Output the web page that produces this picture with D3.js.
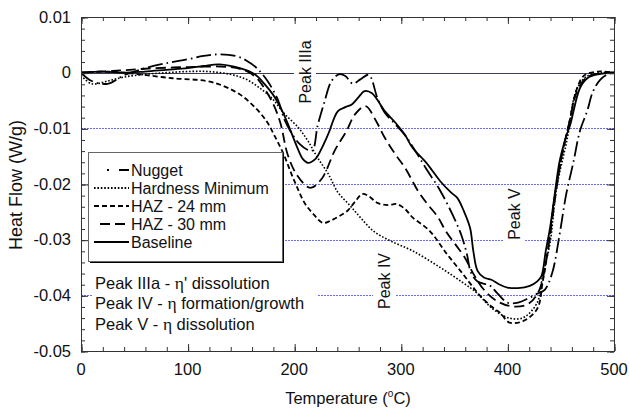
<!DOCTYPE html>
<html>
<head>
<meta charset="utf-8">
<script src="https://cdn.jsdelivr.net/npm/d3@7"></script>
<style>
  html, body { margin: 0; padding: 0; background: #fff; }
  svg text { font-family: "Liberation Sans", Arial, sans-serif; fill: #111; }
</style>
</head>
<body>
<svg id="chart" width="630" height="410"></svg>
<script>
// ---------------- data ----------------
const xTickValues = [0, 100, 200, 300, 400, 500];
const yTickValues = [0.01, 0, -0.01, -0.02, -0.03, -0.04, -0.05];
const gridValues = [-0.01, -0.02, -0.03, -0.04];
const seriesNames = ["Nugget", "Hardness Minimum", "HAZ - 24 mm", "HAZ - 30 mm", "Baseline"];

const nuggetT  = [0, 10, 25, 40, 60, 80, 100, 115, 130, 145, 155, 165, 175, 185, 191, 198, 205, 212, 217, 222, 228, 235, 242, 248, 255, 262, 270, 278, 285, 295, 305, 315, 324, 337, 349, 357, 362, 366, 372, 384, 390, 400, 410, 420, 428, 435, 442, 449, 455, 462, 468, 475, 480, 487, 495, 500];
const nuggetHF = [0, -0.0015, -0.002, -0.0005, 0.0008, 0.0017, 0.0024, 0.003, 0.0033, 0.003, 0.0022, 0.0008, -0.0015, -0.005, -0.0085, -0.011, -0.0128, -0.0138, -0.014, -0.0095, -0.0055, -0.0015, -0.0003, -0.0006, -0.002, -0.0012, -0.0004, -0.0045, -0.0072, -0.0093, -0.0115, -0.0145, -0.0173, -0.0212, -0.0257, -0.0293, -0.0326, -0.036, -0.0375, -0.0383, -0.0395, -0.0413, -0.0413, -0.0405, -0.0397, -0.039, -0.036, -0.029, -0.022, -0.016, -0.0105, -0.0068, -0.0035, -0.0013, -0.0002, 0];

const hardT  = [0, 10, 25, 40, 60, 80, 100, 120, 140, 155, 168, 180, 190, 204, 213, 222, 232, 241, 252, 262, 274, 290, 311, 337, 358, 371, 386, 402, 415, 428, 433, 440, 446, 456, 465, 475, 490, 500];
const hardHF = [-0.0005, -0.002, -0.0015, -0.0008, -0.0003, 0, 0.0002, 0.0002, -0.0003, -0.0012, -0.0028, -0.0048, -0.0072, -0.0099, -0.0123, -0.0153, -0.0182, -0.0215, -0.0238, -0.026, -0.0284, -0.0302, -0.032, -0.035, -0.0377, -0.0395, -0.0424, -0.0441, -0.044, -0.0413, -0.0365, -0.0306, -0.0209, -0.012, -0.003, -0.0006, 0, 0];

const haz24T  = [0, 20, 40, 55, 86, 118, 135, 149, 162, 174, 182, 190, 197, 203, 210, 218, 227, 234, 242, 250, 257, 264, 270, 278, 288, 296, 304, 311, 327, 343, 358, 368, 374, 385, 393, 402, 415, 428, 433, 438, 443, 450, 458, 465, 472, 485, 500];
const haz24HF = [0, 0.0002, 0, -0.0003, -0.001, -0.0015, -0.0025, -0.0039, -0.006, -0.0087, -0.0115, -0.0146, -0.018, -0.0207, -0.0235, -0.0254, -0.027, -0.0266, -0.0258, -0.0248, -0.0232, -0.0218, -0.0222, -0.0234, -0.0238, -0.0236, -0.0245, -0.026, -0.0284, -0.0325, -0.0361, -0.0386, -0.04, -0.042, -0.0431, -0.0449, -0.0446, -0.0424, -0.0377, -0.032, -0.024, -0.016, -0.009, -0.003, -0.0005, 0.0002, 0];

const haz30T  = [0, 30, 60, 100, 140, 155, 165, 172, 180, 187, 194, 203, 215, 226, 238, 249, 257, 267, 276, 285, 295, 304, 316, 325, 335, 342, 351, 360, 368, 378, 390, 405, 420, 430, 437, 443, 450, 458, 466, 475, 490, 500];
const haz30HF = [0, 0.0003, 0.0007, 0.001, 0.001, 0.0003, -0.001, -0.0028, -0.0055, -0.009, -0.0148, -0.0185, -0.0207, -0.019, -0.014, -0.0105, -0.0075, -0.006, -0.0084, -0.0117, -0.0147, -0.0171, -0.0212, -0.0236, -0.026, -0.0284, -0.0308, -0.0332, -0.0361, -0.039, -0.041, -0.042, -0.0415, -0.039, -0.033, -0.025, -0.016, -0.009, -0.003, -0.0008, 0, 0];

const baseT  = [0, 20, 40, 60, 80, 100, 115, 130, 149, 163, 172, 180, 187, 193, 203, 208, 213, 220, 226, 232, 241, 248, 254, 260, 266, 273, 285, 295, 304, 311, 324, 337, 347, 353, 359, 365, 368, 372, 378, 385, 392, 400, 410, 421, 428, 432, 436, 440, 445, 449, 455, 459, 468, 475, 485, 500];
const baseHF = [0, 0.0002, 0, 0.0002, 0.0005, 0.0008, 0.0012, 0.0015, 0.0008, -0.0003, -0.002, -0.0039, -0.0062, -0.0087, -0.0135, -0.0155, -0.0162, -0.0155, -0.0135, -0.011, -0.0069, -0.0062, -0.0057, -0.0045, -0.0033, -0.0037, -0.0069, -0.009, -0.0112, -0.0135, -0.0162, -0.0195, -0.0215, -0.0225, -0.0248, -0.0279, -0.032, -0.0356, -0.0368, -0.0372, -0.038, -0.0386, -0.0387, -0.0383, -0.0375, -0.0365, -0.032, -0.0279, -0.021, -0.0159, -0.0115, -0.0093, -0.0028, -0.001, -0.0003, 0];

const peakNotes = ["Peak IIIa - ", "Peak IV - ", "Peak V - "];
const peakNoteTails = ["' dissolution", " formation/growth", " dissolution"];

// ---------------- layout / styles ----------------
const svg = d3.select("#chart");
const L = 81, R = 614, T = 17, B = 351;
const x = d3.scaleLinear().domain([0, 500]).range([L, R]);
const y = d3.scaleLinear().domain([-0.05, 0.01]).range([B, T]);
const px = v => Math.round(v) + 0.5;

const styles = [
  { dash: "15,4,1.6,4", w: 1.8 },  // Nugget
  { dash: "1.6,1.8", w: 1.6 },     // Hardness Minimum
  { dash: "5,3", w: 1.8 },         // HAZ 24
  { dash: "10,5", w: 1.8 },        // HAZ 30
  { dash: null, w: 1.8 }           // Baseline
];
const legendDash = ["0,13,2,10,22,40", "1.6,1.8", "5,3", "0,6,10,5,10,40", null];

const seriesData = [
  nuggetT.map((t, i) => [t, nuggetHF[i]]),
  hardT.map((t, i) => [t, hardHF[i]]),
  haz24T.map((t, i) => [t, haz24HF[i]]),
  haz30T.map((t, i) => [t, haz30HF[i]]),
  baseT.map((t, i) => [t, baseHF[i]])
];

// grid lines
svg.append("g").selectAll("line").data(gridValues).join("line")
  .attr("x1", L).attr("x2", R)
  .attr("y1", d => px(y(d))).attr("y2", d => px(y(d)))
  .attr("stroke", "#6a6aff").attr("stroke-width", 1)
  .attr("stroke-dasharray", "2,1");

// zero line
svg.append("line").attr("x1", L).attr("x2", R)
  .attr("y1", px(y(0))).attr("y2", px(y(0)))
  .attr("stroke", "#3a3a5a").attr("stroke-width", 1);

// curves
const line = d3.line().x(d => x(d[0])).y(d => y(d[1])).curve(d3.curveCatmullRom.alpha(0.5));
svg.append("clipPath").attr("id", "plotclip")
  .append("rect").attr("x", L).attr("y", T).attr("width", R - L).attr("height", B - T);
svg.append("g").attr("clip-path", "url(#plotclip)")
  .selectAll("path").data(seriesData).join("path")
  .attr("d", d => line(d))
  .attr("fill", "none")
  .attr("stroke", "#000")
  .attr("stroke-width", (d, i) => styles[i].w)
  .attr("stroke-dasharray", (d, i) => styles[i].dash)
  .attr("stroke-linejoin", "round");

// frame
svg.append("rect").attr("x", L + 0.5).attr("y", T + 0.5).attr("width", R - L).attr("height", B - T)
  .attr("fill", "none").attr("stroke", "#333").attr("stroke-width", 1);

// axes with inner ticks
const xMinor = d3.range(0, 501, 20);
const yMinor = d3.range(-0.05, 0.0101, 0.002);
const axStyle = g => { g.select(".domain").remove(); g.selectAll("line").attr("stroke", "#333"); };
svg.append("g").attr("transform", `translate(0.5,${B})`).call(d3.axisTop(x).tickValues(xMinor).tickSize(4).tickFormat("")).call(axStyle);
svg.append("g").attr("transform", `translate(0.5,${T})`).call(d3.axisBottom(x).tickValues(xMinor).tickSize(4).tickFormat("")).call(axStyle);
svg.append("g").attr("transform", `translate(${L},0.5)`).call(d3.axisRight(y).tickValues(yMinor).tickSize(4).tickFormat("")).call(axStyle);
svg.append("g").attr("transform", `translate(${R},0.5)`).call(d3.axisLeft(y).tickValues(yMinor).tickSize(4).tickFormat("")).call(axStyle);
svg.append("g").attr("transform", `translate(0.5,${B})`).call(d3.axisTop(x).tickValues(xTickValues).tickSize(7).tickFormat("")).call(axStyle);
svg.append("g").attr("transform", `translate(0.5,${T})`).call(d3.axisBottom(x).tickValues(xTickValues).tickSize(7).tickFormat("")).call(axStyle);
svg.append("g").attr("transform", `translate(${L},0.5)`).call(d3.axisRight(y).tickValues(yTickValues).tickSize(7).tickFormat("")).call(axStyle);
svg.append("g").attr("transform", `translate(${R},0.5)`).call(d3.axisLeft(y).tickValues(yTickValues).tickSize(7).tickFormat("")).call(axStyle);

// tick labels
svg.append("g").selectAll("text").data(xTickValues).join("text")
  .attr("x", d => x(d)).attr("y", 369).attr("dy", "0.35em")
  .attr("text-anchor", "middle").attr("font-size", 16.5)
  .text(d => d);
svg.append("g").selectAll("text").data(yTickValues).join("text")
  .attr("x", 71).attr("y", d => y(d)).attr("dy", "0.35em")
  .attr("text-anchor", "end").attr("font-size", 16.5)
  .text(d => d === 0 ? "0" : String(+d.toFixed(2)));

// axis titles
const xt = svg.append("text").attr("x", 348).attr("y", 398).attr("dy", "0.35em")
  .attr("text-anchor", "middle").attr("font-size", 16.5);
xt.append("tspan").text("Temperature (");
xt.append("tspan").attr("font-size", 10).attr("dy", "-0.7em").text("o");
xt.append("tspan").attr("dy", "0.45em").text("C)");
svg.append("text").attr("transform", "translate(16,185) rotate(-90)")
  .attr("dy", "0.35em").attr("text-anchor", "middle").attr("font-size", 18)
  .text("Heat Flow (W/g)");

// legend
const lg = svg.append("g");
lg.append("rect").attr("x", 90).attr("y", 154).attr("width", 194).attr("height", 109).attr("fill", "#000");
lg.append("rect").attr("x", 88.5).attr("y", 152.5).attr("width", 194).attr("height", 109)
  .attr("fill", "#fff").attr("stroke", "#666").attr("stroke-width", 1);
seriesNames.forEach((n, i) => {
  const yy = 170 + i * 18;
  lg.append("line").attr("x1", 94).attr("x2", 129).attr("y1", yy).attr("y2", yy)
    .attr("stroke", "#000").attr("stroke-width", 1.8)
    .attr("stroke-dasharray", legendDash[i]);
  lg.append("text").attr("x", 131).attr("y", yy).attr("dy", "0.35em")
    .attr("font-size", 16).text(n);
});

// peak notes box
const nb = svg.append("g");
nb.append("rect").attr("x", 92).attr("y", 270).attr("width", 226).attr("height", 64).attr("fill", "#fff");
peakNotes.forEach((p, i) => {
  const t = nb.append("text").attr("x", 95).attr("y", 283 + i * 20.5).attr("dy", "0.35em").attr("font-size", 16.5);
  t.append("tspan").text(p);
  t.append("tspan").attr("font-family", "'Liberation Serif', 'DejaVu Serif', serif").attr("font-size", 17.5).text("η");
  t.append("tspan").text(peakNoteTails[i]);
});

// rotated peak labels
const peakLabels = [
  { text: "Peak IIIa", cx: 305, cy: 72, w: 22, h: 66 },
  { text: "Peak IV", cx: 384, cy: 281, w: 22, h: 58 },
  { text: "Peak V", cx: 514, cy: 214, w: 22, h: 56 }
];
peakLabels.forEach(p => {
  svg.append("rect").attr("x", p.cx - p.w / 2).attr("y", p.cy - p.h / 2)
    .attr("width", p.w).attr("height", p.h).attr("fill", "#fff");
  svg.append("text").attr("transform", `translate(${p.cx},${p.cy}) rotate(-90)`)
    .attr("dy", "0.35em").attr("text-anchor", "middle").attr("font-size", 16)
    .text(p.text);
});
</script>
</body>
</html>
